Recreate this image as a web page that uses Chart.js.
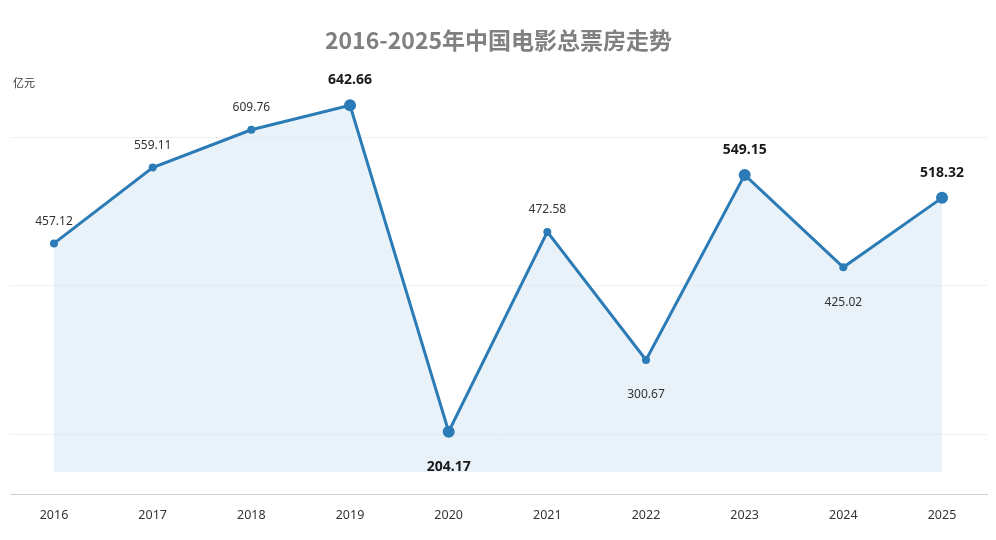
<!DOCTYPE html>
<html>
<head>
<meta charset="utf-8">
<script src="https://cdn.jsdelivr.net/npm/chart.js@4/dist/chart.umd.min.js"></script>
<style>
  html, body { margin: 0; padding: 0; background: #fff; }
  .canvas-container { width: 996px; height: 540px; }
</style>
</head>
<body>
<div class="canvas-container">
  <canvas id="chart"></canvas>
</div>
<script>
const years = [2016, 2017, 2018, 2019, 2020, 2021, 2022, 2023, 2024, 2025];
const boxOffice = [457.12, 559.11, 609.76, 642.66, 204.17, 472.58, 300.67, 549.15, 425.02, 518.32];
const highlightYears = [2019, 2020, 2023, 2025];
const belowYears = [2020, 2022, 2024];
const yGridTicks = [200, 400, 600];

const lineColor = '#2a7bb6';

// value labels above / below each point
const valueLabels = {
  id: 'valueLabels',
  afterDatasetsDraw(chart) {
    const ctx = chart.ctx;
    const meta = chart.getDatasetMeta(0);
    ctx.save();
    ctx.textAlign = 'center';
    ctx.textBaseline = 'middle';
    meta.data.forEach((pt, i) => {
      const year = years[i];
      const big = highlightYears.includes(year);
      const below = belowYears.includes(year);
      ctx.font = big ? 'bold 14px "Noto Sans", sans-serif' : '12px "Noto Sans", sans-serif';
      ctx.fillStyle = big ? '#1a1a1a' : '#333';
      const dy = below ? 35 : (big ? -25 : -22);
      ctx.fillText(boxOffice[i].toFixed(2), pt.x, pt.y + dy);
    });
    ctx.restore();
  }
};

const unitLabel = {
  id: 'unitLabel',
  afterDraw(chart) {
    const ctx = chart.ctx;
    ctx.save();
    ctx.font = '11px "Noto Sans CJK SC", sans-serif';
    ctx.fillStyle = '#333';
    ctx.textBaseline = 'middle';
    ctx.fillText('亿元', 13, 83);
    ctx.restore();
  }
};

new Chart(document.getElementById('chart').getContext('2d'), {
  type: 'line',
  data: {
    datasets: [{
      data: years.map((y, i) => ({ x: y, y: boxOffice[i] })),
      borderColor: lineColor,
      borderWidth: 3,
      backgroundColor: 'rgba(214, 230, 244, 0.5)',
      fill: { value: 150 },
      tension: 0,
      pointBackgroundColor: lineColor,
      pointBorderColor: lineColor,
      pointRadius: years.map(y => highlightYears.includes(y) ? 6 : 4),
      pointBorderWidth: 0
    }]
  },
  options: {
    responsive: true,
    maintainAspectRatio: false,
    animation: false,
    layout: { padding: { left: 10, right: 9, top: 0, bottom: 2.6 } },
    plugins: {
      legend: { display: false },
      tooltip: { enabled: false },
      title: {
        display: true,
        text: '2016-2025年中国电影总票房走势',
        color: '#808080',
        font: { family: '"Noto Sans CJK SC", sans-serif', size: 23, weight: 'bold' },
        padding: { top: 26.4, bottom: 8.6 }
      }
    },
    scales: {
      x: {
        type: 'linear',
        min: 2015.554,
        max: 2025.456,
        afterBuildTicks: axis => { axis.ticks = years.map(v => ({ value: v })); },
        grid: { display: false, drawTicks: false },
        border: { display: true, color: '#d0d0d0', width: 1 },
        ticks: {
          padding: 14,
          color: '#333',
          font: { family: '"Noto Sans", sans-serif', size: 12.5 },
          callback: v => String(v)
        }
      },
      y: {
        min: 120,
        max: 700,
        afterBuildTicks: axis => { axis.ticks = yGridTicks.map(v => ({ value: v })); },
        grid: { color: '#f0f0f0', drawTicks: false },
        border: { display: false },
        ticks: { display: false }
      }
    }
  },
  plugins: [valueLabels, unitLabel]
});
</script>
</body>
</html>
